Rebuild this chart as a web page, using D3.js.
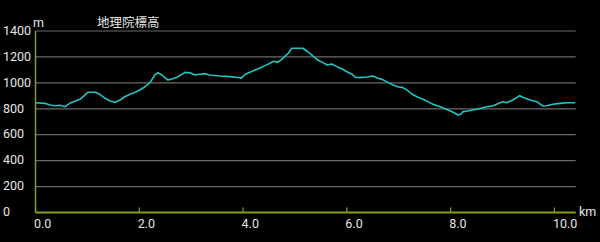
<!DOCTYPE html>
<html lang="ja">
<head>
<meta charset="UTF-8">
<title>地理院標高</title>
<script src="https://d3js.org/d3.v7.min.js"></script>
<style>
  html, body { margin: 0; padding: 0; background: #000; }
  svg { display: block; }
  text { font-family: Roboto, "Noto Sans", sans-serif; fill: #e6e6e6; }
</style>
</head>
<body>
<div id="chart"></div>
<script>
// distance (km) along the route
const distKm = [0.00, 0.18, 0.28, 0.38, 0.47, 0.57, 0.66, 0.76, 0.86, 0.95,
  1.01, 1.15, 1.24, 1.34, 1.44, 1.53, 1.63, 1.72, 1.82, 1.92,
  2.01, 2.11, 2.21, 2.30, 2.36, 2.44, 2.49, 2.55, 2.63, 2.73,
  2.82, 2.88, 2.98, 3.07, 3.17, 3.27, 3.36, 3.55, 3.75, 3.94,
  3.96, 4.04, 4.13, 4.23, 4.33, 4.42, 4.52, 4.58, 4.67, 4.77,
  4.87, 4.94, 5.10, 5.15, 5.25, 5.35, 5.44, 5.54, 5.62, 5.71,
  5.81, 5.91, 6.00, 6.10, 6.16, 6.25, 6.39, 6.50, 6.60, 6.69,
  6.79, 6.89, 6.98, 7.08, 7.16, 7.25, 7.37, 7.47, 7.56, 7.66,
  7.76, 7.85, 7.95, 8.05, 8.14, 8.20, 8.24, 8.33, 8.43, 8.53,
  8.62, 8.70, 8.82, 8.95, 9.01, 9.08, 9.20, 9.33, 9.39, 9.53,
  9.66, 9.78, 9.85, 9.97, 10.11, 10.25, 10.40];

// elevation (m)
const elevM = [847, 842, 829, 824, 827, 816, 842, 858, 873, 906,
  927, 927, 912, 881, 860, 850, 868, 893, 912, 927,
  945, 970, 1004, 1061, 1078, 1061, 1040, 1022, 1030, 1043,
  1066, 1081, 1078, 1061, 1066, 1071, 1061, 1053, 1048, 1040,
  1035, 1066, 1081, 1099, 1115, 1133, 1151, 1166, 1158, 1189,
  1228, 1267, 1267, 1267, 1240, 1207, 1176, 1156, 1138, 1145,
  1125, 1107, 1086, 1066, 1043, 1040, 1045, 1053, 1035, 1025,
  1004, 983, 970, 963, 945, 914, 889, 873, 855, 835,
  821, 808, 791, 773, 752, 760, 778, 783, 791, 798,
  808, 816, 824, 847, 855, 847, 868, 901, 889, 868,
  855, 821, 824, 835, 842, 847, 847];

const xTicks = [0, 2, 4, 6, 8, 10];
const yTicks = [0, 200, 400, 600, 800, 1000, 1200, 1400];
const chartTitle = "地理院標高";

const width = 600, height = 242;
const plotL = 35.5, plotR = 575.7, plotT = 31, plotB = 212.5;

const svg = d3.select("#chart").append("svg")
  .attr("width", width).attr("height", height);

svg.append("rect").attr("width", width).attr("height", height).attr("fill", "#000");

const x = d3.scaleLinear().domain([0, 10.41]).range([plotL, plotR]);
const y = d3.scaleLinear().domain([0, 1400]).range([plotB, plotT]);

// horizontal grid
svg.append("g").selectAll("line")
  .data(yTicks.filter(d => d > 0))
  .join("line")
  .attr("x1", plotL).attr("x2", plotR)
  .attr("y1", d => y(d)).attr("y2", d => y(d))
  .attr("stroke", "#6a6a6a").attr("stroke-width", 1.2);

// y labels
svg.append("g").selectAll("text")
  .data(yTicks)
  .join("text")
  .attr("x", 3)
  .attr("y", d => y(d))
  .attr("dy", "0.3em")
  .attr("font-size", 12.5)
  .text(d => d);

// axes lines
const axisColor = "#8a9a1c";
svg.append("line")
  .attr("x1", plotL).attr("x2", plotL).attr("y1", plotT).attr("y2", plotB)
  .attr("stroke", axisColor).attr("stroke-width", 1.5);
svg.append("line")
  .attr("x1", plotL).attr("x2", plotR).attr("y1", plotB).attr("y2", plotB)
  .attr("stroke", axisColor).attr("stroke-width", 2);

// x ticks
svg.append("g").selectAll("line")
  .data(xTicks)
  .join("line")
  .attr("x1", d => x(d)).attr("x2", d => x(d))
  .attr("y1", plotB - 5).attr("y2", plotB)
  .attr("stroke", axisColor).attr("stroke-width", 1.2);

svg.append("g").selectAll("text")
  .data(xTicks)
  .join("text")
  .attr("x", d => x(d) - 1.5)
  .attr("y", 228)
  .attr("font-size", 12.5)
  .text(d => d.toFixed(1));

// elevation line
const pts = distKm.map((d, i) => [d, elevM[i]]);
svg.append("path")
  .datum(pts)
  .attr("fill", "none")
  .attr("stroke", "#22c3c3")
  .attr("stroke-width", 1.6)
  .attr("stroke-linejoin", "round")
  .attr("d", d3.line().x(d => x(d[0])).y(d => y(d[1])));

// unit labels and title
svg.append("text").attr("x", 33).attr("y", 27).attr("font-size", 12.5).text("m");
svg.append("text").attr("x", 579).attr("y", 216).attr("font-size", 12.5).text("km");
svg.append("text").attr("x", 97).attr("y", 27).attr("font-size", 12.5)
  .style("font-family", "'Noto Sans CJK JP', sans-serif")
  .text(chartTitle);
</script>
</body>
</html>
